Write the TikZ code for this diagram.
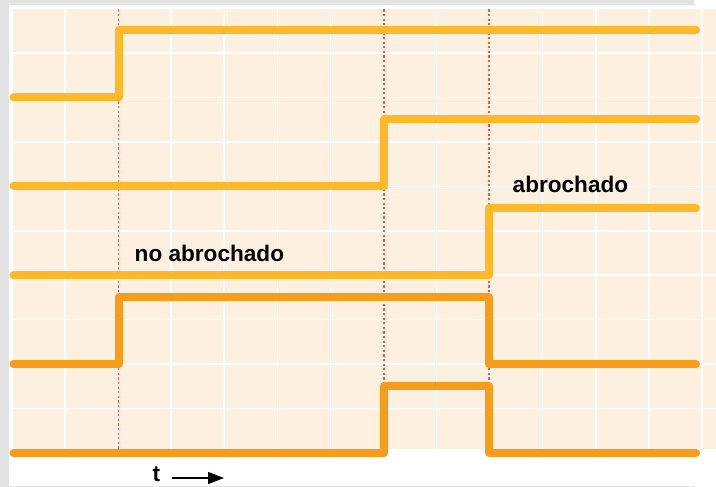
\documentclass[tikz,border=0pt]{standalone}
\usepackage{fontspec}
\setmainfont{Liberation Sans}
\usetikzlibrary{arrows.meta}
\definecolor{framegray}{HTML}{E4E4E4}
\definecolor{peach}{HTML}{FEF0E1}
\definecolor{sigA}{HTML}{FDB927}
\definecolor{sigB}{HTML}{F89C1C}
\definecolor{markred}{HTML}{EE5B45}
\tikzset{
  sigup/.style={draw=sigA, line width=8pt, line cap=round, line join=round},
  sigdn/.style={draw=sigB, line width=8pt, line cap=round, line join=round},
  gridln/.style={draw=white, line width=1.5pt},
  marker/.style={draw=markred, line width=1.7pt, dash pattern=on 2.2pt off 2.4pt},
  lbl/.style={inner sep=0pt, font=\bfseries\fontsize{22.6}{23}\selectfont}
}
\begin{document}
\begin{tikzpicture}[x=1pt,y=-1pt]
\useasboundingbox (0,0) rectangle (716,487);
% frame
\fill[white] (0,0) rectangle (716,487);
\fill[framegray] (0,0) rectangle (9,487);
\fill[framegray] (0,0) rectangle (694,4.8);
\fill[framegray] (9,485.6) rectangle (694,487);
% chart area
\fill[peach] (13,9.5) rectangle (716,448.5);
\foreach \k in {0,...,12} {
  \draw[gridln] ({65+53.08*\k},9.5) -- ({65+53.08*\k},448.5);
}
\foreach \j in {1,...,9} {
  \draw[gridln] (13,{8.6+44.44*\j}) -- (716,{8.6+44.44*\j});
}
% event markers
\coordinate (m1t) at (118.6,9.5); \coordinate (m1b) at (118.6,453);
\coordinate (m2t) at (384.2,9.5); \coordinate (m2b) at (384.2,453);
\coordinate (m3t) at (489.2,9.5); \coordinate (m3b) at (489.2,453);
\draw[marker] (m1t) -- (m1b);
\draw[marker] (m2t) -- (m2b);
\draw[marker] (m3t) -- (m3b);
% signals
\draw[sigup] (13.5,97.5) -- (118.6,97.5) -- (118.6,30) -- (696,30);
\draw[sigup] (13.5,186) -- (384.2,186) -- (384.2,119) -- (696,119);
\draw[sigup] (13.5,275) -- (489.2,275) -- (489.2,208) -- (696,208);
\draw[sigdn] (13.5,364) -- (118.6,364) -- (118.6,297) -- (489.2,297) -- (489.2,364) -- (696,364);
\draw[sigdn] (13.5,453) -- (384.2,453) -- (384.2,386) -- (489.2,386) -- (489.2,453) -- (696,453);
% labels
\node[lbl, anchor=base west] (noab) at (134.5,261.5) {no abrochado};
\node[lbl, anchor=base west] (ab) at (512.5,192.5) {abrochado};
\node[lbl, anchor=base west] (tlbl) at (152.5,481.5) {t};
\coordinate (arrS) at (172,478);
\coordinate (arrE) at (224,478);
\draw[line width=1.3pt, -{Triangle[length=16pt,width=12pt]}] (arrS) -- (arrE);
\end{tikzpicture}
\end{document}
